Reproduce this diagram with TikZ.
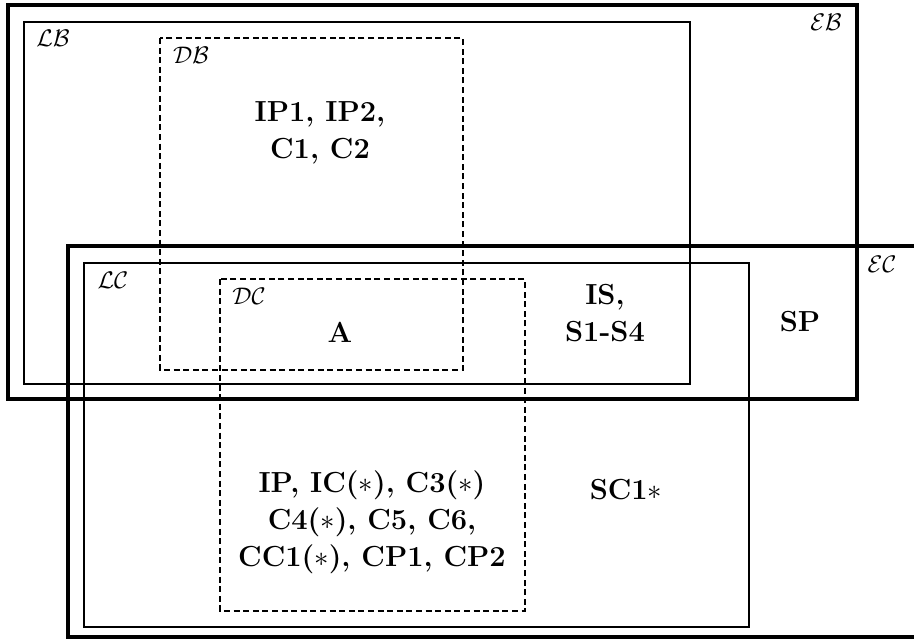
\documentclass[tikz,border=0pt]{standalone}
\usepackage{amsmath,amssymb}
\usepackage{tikz}
\tikzset{
  ebox/.style={draw,line width=2pt},
  lbox/.style={draw,line width=1pt},
  dbox/.style={draw,line width=1pt,dash pattern=on 3pt off 1.8pt},
  tag/.style={font=\fontsize{13}{16}\selectfont,inner sep=0pt},
  txt/.style={align=center,inner sep=0pt,font=\fontsize{14.5}{18.5}\selectfont\bfseries}
}

\begin{document}
\begin{tikzpicture}[x=0.5pt,y=-0.5pt]
\useasboundingbox (0,0) rectangle (914,642);
\clip (0,0) rectangle (914,642);
% B side
\draw[ebox] (8,5) rectangle (857,399);
\draw[lbox] (24,22) rectangle (690,384);
\draw[dbox] (160,38) rectangle (463,370);
% C side
\draw[ebox] (68,246) rectangle (930,637);
\draw[lbox] (84,263) rectangle (749,627);
\draw[dbox] (220,279) rectangle (525,611);
% set names
\node[tag] (eb) at (826,22) {$\mathcal{EB}$};
\node[tag] (lb) at (53,38) {$\mathcal{LB}$};
\node[tag] (db) at (191,55) {$\mathcal{DB}$};
\node[tag] (ec) at (882,264) {$\mathcal{EC}$};
\node[tag] (lc) at (113,280) {$\mathcal{LC}$};
\node[tag] (dc) at (249,296) {$\mathcal{DC}$};
% contents
\node[txt] (ipc) at (320,133) {IP1, IP2,\\ C1, C2};
\node[txt] (a) at (340,332) {A};
\node[txt] (is) at (605,313) {IS,\\ S1-S4};
\node[txt] (sp) at (800,322) {SP};
\node[txt] (ip) at (372,522) {IP, IC($*$), C3($*$)\\ C4($*$), C5, C6,\\ CC1($*$), CP1, CP2};
\node[txt] (sc) at (626,490) {SC1$*$};
\end{tikzpicture}
\end{document}
